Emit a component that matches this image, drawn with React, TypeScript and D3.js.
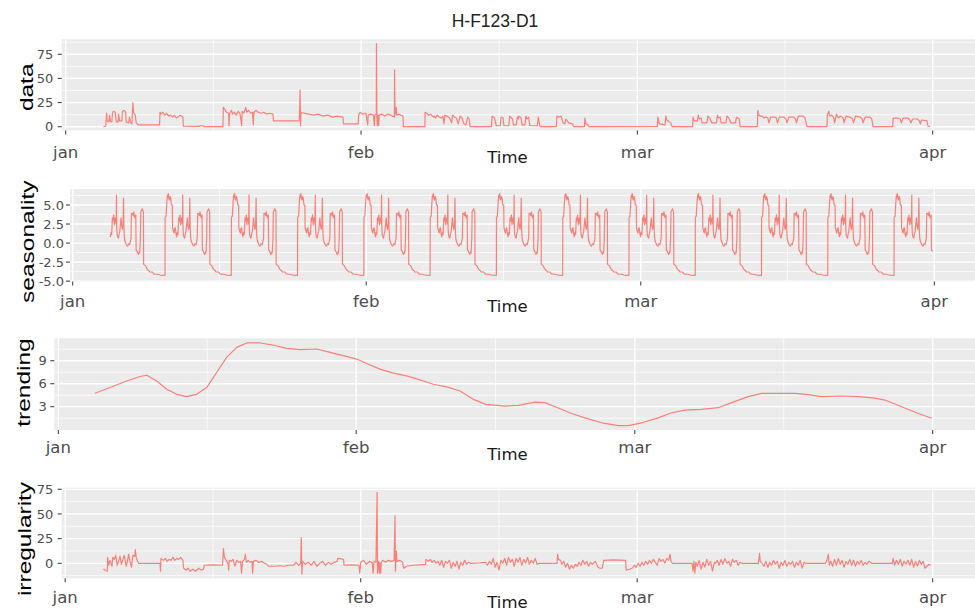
import React from 'react';
import * as d3 from 'd3';

const TITLE = 'H-F123-D1';
const MONTH_LABELS = ['jan', 'feb', 'mar', 'apr'];
const MONTH_DAYS = [0, 31, 60, 91];
const AXIS_X_TITLE = 'Time';

// observed series, [day since Jan 1, value]
const DATA_SERIES: [number, number][] = [
  [3.95, 0], [4.2, 0.5], [4.25, 8], [4.3, 14], [4.35, 6], [4.55, 5], [4.6, 12], [4.7, 6], [4.85, 5], [4.9, 14], [5.0, 16], [5.2, 15], [5.3, 5], [5.5, 5], [5.55, 13], [5.65, 6], [5.9, 6], [5.95, 16], [6.1, 17], [6.3, 15], [6.35, 5], [6.6, 4], [6.7, 10], [6.8, 4], [6.95, 3], [7.0, 14], [7.05, 25], [7.12, 15], [7.3, 12], [7.4, 4], [7.62, 2],
  [9.85, 2], [9.9, 15], [10.0, 13], [10.2, 15], [10.4, 12], [10.6, 14], [10.8, 11], [11.0, 12], [11.2, 10], [11.4, 12], [11.6, 9], [11.8, 10], [12.0, 12], [12.3, 10], [12.35, 0.5],
  [14.0, 0.3], [14.1, 1], [14.4, 1], [14.5, 0.2], [16.5, 0.2],
  [16.55, 20], [16.7, 18], [16.8, 16], [16.9, 15], [17.1, 14], [17.14, 1], [17.2, 14], [17.4, 17], [17.5, 13], [17.7, 15], [17.9, 12], [18.1, 16], [18.3, 13], [18.47, 1], [18.52, 16], [18.7, 14], [18.9, 20], [19.0, 15], [19.2, 17], [19.4, 14], [19.6, 15], [19.69, 2], [19.75, 15], [20.0, 17], [20.2, 15], [20.5, 14], [20.8, 15], [21.1, 13], [21.4, 14], [21.75, 13],
  [21.8, 6], [24.5, 6], [24.55, 15], [24.6, 38], [24.65, 1], [24.7, 15], [25, 14], [25.5, 13], [26, 12], [26.5, 13], [27, 11], [27.5, 12], [28, 10], [28.5, 11], [29.1, 10], [29.15, 3], [30.7, 3],
  [30.75, 12], [30.9, 15], [31.2, 13], [31.5, 14], [31.7, 2], [31.75, 12], [32.0, 13], [32.3, 12], [32.4, 1], [32.45, 12], [32.6, 13], [32.62, 86], [32.66, 12], [32.7, 1], [32.75, 12], [32.85, 1], [32.9, 12], [33.2, 13], [33.5, 11], [33.8, 13], [34.1, 12], [34.3, 11], [34.5, 10], [34.52, 59], [34.56, 12], [34.7, 20], [34.75, 12], [35.0, 13], [35.4, 11], [35.45, 0.2],
  [37.7, 0.2], [37.72, 15], [37.9, 14], [38.1, 12], [38.3, 13], [38.6, 10], [38.7, 11], [38.8, 9], [39.0, 12], [39.2, 10], [39.4, 9], [39.6, 11], [39.7, 3], [39.8, 12], [40.0, 11], [40.3, 9], [40.5, 4], [40.6, 12], [40.8, 10], [41.0, 9], [41.2, 3], [41.4, 11], [41.6, 9], [41.8, 3], [42.0, 2], [42.2, 10], [42.35, 8], [42.44, 0.2],
  [44.7, 0.2], [44.75, 11], [45.0, 9], [45.2, 1], [45.6, 1], [45.7, 10], [45.9, 9], [46.0, 1], [46.5, 1], [46.6, 11], [46.9, 8], [47.0, 2], [47.3, 2], [47.4, 10], [47.5, 8], [47.55, 11], [47.8, 9], [47.9, 2], [48.2, 2], [48.3, 11], [48.4, 8], [48.6, 10], [48.7, 1], [49.5, 1], [49.6, 10], [49.79, 0.2],
  [51.5, 0.2], [51.55, 11], [51.8, 10], [52.0, 11], [52.2, 4], [52.4, 3], [52.5, 8], [52.8, 4], [53.2, 3], [53.3, 0.2],
  [54.45, 0.2], [54.5, 9], [54.6, 3], [54.8, 2], [54.9, 0.2], [62.1, 0.3],
  [62.15, 10], [62.3, 3], [62.9, 2], [63.0, 11], [63.1, 7], [63.5, 4], [63.64, 0.2],
  [65.8, 0.2], [65.85, 10], [65.95, 6], [66.3, 6], [66.4, 12], [66.5, 8], [66.7, 9], [66.8, 4], [67.3, 4], [67.4, 11], [67.6, 9], [67.8, 4], [68.3, 4], [68.4, 12], [68.5, 9], [68.7, 10], [68.8, 4], [69.3, 4], [69.4, 11], [69.6, 9], [69.8, 4], [70.3, 4], [70.4, 10], [70.7, 8], [70.78, 0.2],
  [72.6, 0.2], [72.65, 17], [72.75, 12], [72.9, 11], [73.1, 11], [73.3, 9], [73.5, 10], [73.7, 9], [73.8, 4], [74.0, 10], [74.4, 10], [74.6, 9], [74.7, 4], [74.9, 10], [75.4, 10], [75.6, 8], [75.7, 4], [75.9, 10], [76.4, 10], [76.6, 8], [76.7, 4], [76.9, 11], [77.4, 11], [77.6, 9], [77.81, 0.2],
  [79.9, 0.2], [79.95, 13], [80.1, 16], [80.2, 11], [80.4, 12], [80.6, 10], [80.7, 4], [80.9, 13], [81.1, 9], [81.3, 11], [81.6, 9], [81.7, 4], [81.9, 11], [82.3, 10], [82.6, 8], [82.7, 4], [82.9, 11], [83.4, 10], [83.6, 8], [83.7, 4], [83.9, 10], [84.4, 10], [84.6, 8], [84.74, 0.2],
  [86.8, 0.2], [86.85, 9], [87.3, 9], [87.6, 8], [87.7, 4], [87.9, 9], [88.4, 9], [88.6, 7], [88.7, 4], [88.9, 8], [89.4, 8], [89.6, 6], [89.7, 3], [89.85, 7], [90.4, 6], [90.5, 0.5], [90.72, 0],
];

// one weekly cycle of the seasonal component, [day offset within the week, value]
const SEASON_WEEK: [number, number][] = [
  [0, -4.2], [0.01, 3.4], [0.106, 3.5], [0.18, 5.2], [0.246, 6.3], [0.3, 6.0], [0.352, 6.5], [0.4, 5.9], [0.458, 5.65], [0.53, 6.1], [0.6, 5.9], [0.67, 5.0], [0.77, 5.0], [0.8, 2.0], [0.88, 1.6], [0.95, 1.3], [1.02, 1.9], [1.09, 2.0], [1.16, 1.2], [1.23, 0.8], [1.3, 1.4], [1.37, 1.1], [1.44, 3.3], [1.5, 2.9], [1.58, 3.7], [1.65, 2.4], [1.72, 3.2], [1.76, 3.3], [1.84, 2.5], [1.87, 6.3], [1.9, 2.0], [1.94, 1.1], [2.0, 0.8], [2.08, 0.65], [2.15, 1.2], [2.22, 1.5], [2.3, 2.6], [2.36, 3.3], [2.43, 2.2], [2.5, 1.8], [2.57, 2.5], [2.62, 5.9], [2.66, 2.0], [2.71, 0.65], [2.78, 0.2], [2.85, 0.0], [2.95, -0.3], [3.06, -0.4], [3.15, -0.1], [3.27, -0.2], [3.35, 0.3], [3.41, 0.65], [3.45, 3.9], [3.56, 3.9], [3.63, 3.6], [3.7, 4.1], [3.77, 3.5], [3.84, 3.3], [3.91, 3.7], [3.95, -0.9], [4.05, -1.1], [4.19, -1.5], [4.26, -1.2], [4.33, -1.3], [4.4, 0.65], [4.44, 4.1], [4.52, 4.3], [4.61, 4.5], [4.68, 4.2], [4.72, 4.1], [4.74, -2.8], [4.85, -2.9], [4.96, -3.0], [5.05, -3.3], [5.17, -3.5], [5.28, -3.6], [5.39, -3.8], [5.53, -3.8], [5.67, -3.8], [5.81, -4.05], [6.0, -4.1], [6.16, -4.1], [6.5, -4.2], [6.99, -4.25],
];
// day at which each weekly cycle begins
const SEASON_STARTS = [2.75, 9.75, 16.75, 23.75, 30.75, 37.75, 44.75, 51.75, 58.75, 65.75, 72.75, 79.75, 86.75];
const SEASON_RANGE = [3.95, 90.9];

const TREND: [number, number][] = [
  [3.82, 4.75], [5.38, 5.5], [7.12, 6.36], [8.5, 6.94], [9.2, 7.11], [10.24, 6.36], [11.28, 5.27], [12.32, 4.62], [13.36, 4.31], [14.4, 4.62], [15.44, 5.5], [16.48, 7.47], [17.52, 9.44], [18.57, 10.75], [19.6, 11.32], [20.99, 11.32], [22.38, 11.05], [23.77, 10.62], [25.15, 10.44], [26.9, 10.53], [28.28, 10.1], [29.66, 9.66], [31.05, 9.22], [32.1, 8.65], [33.48, 7.9], [34.87, 7.38], [36.26, 7.02], [37.64, 6.5], [39.03, 5.93], [40.42, 5.58], [41.8, 5.05], [43.19, 3.96], [44.5, 3.3], [46.5, 3.08], [47.87, 3.17], [49.6, 3.6], [50.65, 3.53], [51.7, 3.0], [53.43, 2.12], [54.81, 1.55], [56.55, 0.9], [58.28, 0.54], [59.32, 0.54], [60.71, 0.9], [62.44, 1.55], [63.83, 2.21], [65.22, 2.55], [66.95, 2.64], [68.68, 2.87], [70.08, 3.53], [71.81, 4.31], [73.2, 4.75], [74.93, 4.75], [76.67, 4.75], [78.05, 4.58], [79.44, 4.31], [81.53, 4.4], [83.26, 4.31], [84.99, 4.13], [86.03, 3.87], [87.77, 3.0], [89.5, 2.12], [90.89, 1.5],
];

const IRREG: [number, number][] = [
  [4.0, -6], [4.3, -7.5], [4.42, -8], [4.45, 6], [4.55, -2], [4.7, 3], [4.9, -3], [5.0, 6], [5.15, 4], [5.3, 8], [5.45, -2], [5.6, 2], [5.75, 7], [5.9, -1], [6.05, 4], [6.2, 8], [6.4, -3], [6.55, 3], [6.65, 9], [6.8, 2], [6.95, -4], [7.1, 8], [7.3, 7], [7.35, 14], [7.45, 6], [7.6, 2], [7.7, 0], [9.95, 0], [10.0, -8], [10.05, 5], [10.3, 3], [10.5, 5], [10.7, 2], [10.9, 4], [11.1, 3], [11.3, 6], [11.5, 3], [11.7, 5], [11.9, 4], [12.1, 6], [12.35, 3], [12.42, -5], [12.7, -7], [12.9, -5], [13.1, -8], [13.4, -6], [13.7, -8], [14.0, -5], [14.3, -7], [14.5, -6], [14.6, -2], [15.5, -1.5], [16.5, -2], [16.6, 15], [16.7, 6], [16.9, 3], [17.1, -1], [17.14, -7], [17.2, 3], [17.4, 2], [17.6, 4], [17.8, -3], [18.0, 3], [18.2, 1], [18.4, 2], [18.5, -10], [18.6, 2], [18.8, 4], [18.9, 9], [19.0, 1], [19.2, 3], [19.4, 1], [19.6, 2], [19.66, -10], [19.75, 2], [20.0, 3], [20.3, 1], [20.6, 2], [20.9, 0], [21.16, -1], [21.3, -3], [22.0, -3], [22.5, -2.5], [23.0, -3], [23.5, -2], [23.97, -2], [24.2, 1], [24.5, -2], [24.7, 0], [24.77, 26], [24.82, -11], [24.9, 2], [25.2, -1], [25.5, 1], [25.8, -2], [26.1, 2], [26.4, -3], [26.7, 0], [27.0, 2], [27.3, -2], [27.6, 1], [27.9, -1], [28.2, 1], [28.51, 2], [28.6, 5], [29.2, 4], [29.25, -2], [30.0, -1.5], [30.8, -2], [30.9, -10], [31.0, 1], [31.3, 3], [31.6, -1], [31.9, 2], [32.2, 1], [32.3, -10], [32.4, 2], [32.6, 1], [32.72, 72], [32.76, -10], [32.85, 2], [32.95, -10], [33.0, 1], [33.1, -10], [33.15, 1], [33.3, 3], [33.6, 1], [33.9, 3], [34.2, 2], [34.5, 3], [34.6, 48], [34.64, -8], [34.7, 3], [34.74, 12], [34.8, 2], [35.1, 3], [35.4, 1], [35.5, -5], [35.8, -3], [36.5, -2], [37.2, -1.5], [37.8, -1], [37.85, 4], [38.1, 2], [38.3, 4], [38.5, 1], [38.7, 3], [38.9, 0], [39.1, 2], [39.3, -2], [39.5, 3], [39.7, -4], [39.9, 2], [40.1, 0], [40.3, 3], [40.5, -5], [40.7, 1], [40.9, -3], [41.1, 2], [41.3, -6], [41.5, 1], [41.7, -2], [41.9, 3], [42.1, -1], [42.3, 1], [42.5, 0], [43.5, 0.5], [44.1, 1],
  [44.3, -2], [44.5, 2], [44.7, -1], [44.9, 5], [45.1, -4], [45.3, 1], [45.5, -7], [45.7, 3], [45.9, 0], [46.1, 5], [46.3, -2], [46.5, 6], [46.7, 1], [46.9, 4], [47.1, -3], [47.3, 5], [47.5, 1], [47.7, 6], [47.9, -2], [48.1, 4], [48.3, 0], [48.5, 6], [48.7, -1], [48.9, 3], [49.1, 0], [49.3, 5], [49.5, -1], [49.68, 0], [51.6, 0], [51.65, 9], [51.75, 4], [51.96, 3], [52.1, -1], [52.3, 2], [52.5, -4], [52.7, 0], [52.9, -6], [53.1, -2], [53.3, -5], [53.5, -1], [53.7, -3], [53.9, 1], [54.1, -2], [54.3, 3], [54.5, -1], [54.7, 2], [54.9, -3], [55.1, 1], [55.3, -1], [55.6, 2], [55.9, -4], [56.1, -5], [56.33, -5], [56.5, 3], [57.5, 3.5], [58.78, 3], [58.85, -7], [59.2, -6], [59.48, -5], [59.7, -2], [59.9, -4], [60.1, 0], [60.3, -3], [60.5, 1], [60.7, -2], [60.9, 2], [61.1, -1], [61.3, 3], [61.5, 0], [61.7, 4], [61.9, 1], [62.1, -2], [62.3, 5], [62.5, 2], [62.7, 4], [62.9, 0], [63.1, 5], [63.3, 3], [63.45, 9], [63.55, 2], [63.68, 0], [65.77, 0], [65.85, -8], [65.95, 2], [66.05, -10], [66.15, 1], [66.3, -3], [66.5, 3], [66.7, -6], [66.9, 1], [67.1, -4], [67.3, 4], [67.5, -2], [67.7, 2], [67.9, -8], [68.1, 1], [68.22, 0], [68.4, 3], [68.6, -2], [68.8, 4], [69.0, -1], [69.2, 5], [69.4, 0], [69.6, 2], [69.8, -3], [70.0, 4], [70.2, 1], [70.4, 3], [70.6, -2], [70.8, 1], [71.0, 0], [72.7, 0], [72.84, 10], [72.9, 2], [73.1, 0], [73.3, -3], [73.5, 2], [73.7, -4], [73.9, 1], [74.1, -2], [74.3, 3], [74.5, -1], [74.7, 2], [74.9, -5], [75.1, 1], [75.3, -2], [75.5, 3], [75.7, -3], [75.9, 1], [76.1, -1], [76.3, 2], [76.5, -4], [76.7, 1], [76.9, -2], [77.1, 3], [77.3, -5], [77.5, 1], [77.66, 0], [79.76, 0], [79.9, 3], [80.05, 9], [80.15, -2], [80.3, 2], [80.5, -3], [80.7, 4], [80.9, -2], [81.1, 5], [81.3, -1], [81.5, 3], [81.7, -4], [81.9, 2], [82.1, -1], [82.3, 4], [82.5, -2], [82.7, 3], [82.9, -3], [83.1, 2], [83.3, -1], [83.5, 3], [83.7, -2], [83.9, 1], [84.1, -1], [84.3, 2], [84.6, 0], [85.01, 0], [86.76, 0], [86.85, 5], [87.0, -2], [87.2, 3], [87.4, -1], [87.6, 4], [87.8, -3], [88.0, 2], [88.2, -1], [88.4, 3], [88.6, -2], [88.8, 4], [89.0, -4], [89.2, 2], [89.4, -3], [89.6, 3], [89.8, -1], [90.0, 2], [90.2, -5], [90.4, -3], [90.6, -1], [90.8, -2],
];

const SEASONALITY: [number, number][] = SEASON_STARTS.flatMap((s) =>
  SEASON_WEEK.map(([o, v]) => [s + o, v] as [number, number])
).filter(([d]) => d >= SEASON_RANGE[0] && d <= SEASON_RANGE[1]);

const Y_TITLES = ['data', 'seasonality', 'trending', 'irregularity'];
const Y_TICKS = [[0, 25, 50, 75], [-5, -2.5, 0, 2.5, 5], [3, 6, 9], [0, 25, 50, 75]];
const Y_DOMAINS = [[-3.9, 90.5], [-5.05, 7.1], [-0.04, 11.93], [-15.2, 76.6]];

const W = 975;
const H = 613;
const LINE = '#F8766D';

interface Layout {
  left: number; top: number; bottom: number; janX: number; aprX: number;
  labelRight: number; titleX: number; titleY: number; xLabY: number; timeY: number;
  fmt: (v: number) => string;
}
const LAYOUT: Layout[] = [
  { left: 61.7, top: 39.3, bottom: 130.5, janX: 65.7, aprX: 932.7, labelRight: 53.3, titleX: 33.3, titleY: 87.3, xLabY: 158, timeY: 163.3, fmt: (v) => String(v) },
  { left: 70, top: 189, bottom: 281.5, janX: 72.7, aprX: 934.3, labelRight: 64, titleX: 34.3, titleY: 241.7, xLabY: 306.8, timeY: 311.7, fmt: (v) => v.toFixed(1) },
  { left: 54.3, top: 338.3, bottom: 430, janX: 58.3, aprX: 932.7, labelRight: 46.7, titleX: 29.6, titleY: 382.5, xLabY: 453, timeY: 460, fmt: (v) => String(v) },
  { left: 61.7, top: 487.7, bottom: 578.3, janX: 65.2, aprX: 932.7, labelRight: 53.3, titleX: 31.2, titleY: 539, xLabY: 603, timeY: 608.3, fmt: (v) => String(v) },
];
const SERIES = [DATA_SERIES, SEASONALITY, TREND, IRREG];

function Panel({ idx }: { idx: number }) {
  const L = LAYOUT[idx];
  const right = W;
  const x = d3.scaleLinear().domain([MONTH_DAYS[0], MONTH_DAYS[3]]).range([L.janX, L.aprX]);
  const y = d3.scaleLinear().domain(Y_DOMAINS[idx]).range([L.bottom, L.top]);
  const ticks = Y_TICKS[idx];
  const step = ticks[1] - ticks[0];
  const minors: number[] = [];
  for (let v = ticks[0] - step / 2; v <= Y_DOMAINS[idx][1]; v += step) {
    if (v >= Y_DOMAINS[idx][0]) minors.push(v);
  }
  const xMajor = MONTH_DAYS.map((d) => x(d));
  const xMinor = xMajor.slice(1).map((px, i) => (px + xMajor[i]) / 2);
  const line = d3.line<[number, number]>().x((d) => x(d[0])).y((d) => y(d[1]));
  const clipId = `clip-${idx}`;
  return (
    <g>
      <defs>
        <clipPath id={clipId}>
          <rect x={L.left} y={L.top} width={right - L.left} height={L.bottom - L.top} />
        </clipPath>
      </defs>
      <rect x={L.left} y={L.top} width={right - L.left} height={L.bottom - L.top} fill="#EBEBEB" />
      <g clipPath={`url(#${clipId})`}>
        {minors.map((v) => (
          <line key={'hm' + v} x1={L.left} x2={right} y1={y(v)} y2={y(v)} stroke="#fff" strokeWidth={0.7} />
        ))}
        {xMinor.map((px, i) => (
          <line key={'vm' + i} x1={px} x2={px} y1={L.top} y2={L.bottom} stroke="#fff" strokeWidth={0.7} />
        ))}
        {ticks.map((v) => (
          <line key={'hM' + v} x1={L.left} x2={right} y1={y(v)} y2={y(v)} stroke="#fff" strokeWidth={1.3} />
        ))}
        {xMajor.map((px, i) => (
          <line key={'vM' + i} x1={px} x2={px} y1={L.top} y2={L.bottom} stroke="#fff" strokeWidth={1.3} />
        ))}
        <path d={line(SERIES[idx]) || ''} fill="none" stroke={LINE} strokeWidth={1.2} strokeOpacity={0.9} strokeLinejoin="round" />
      </g>
      {ticks.map((v) => (
        <g key={'yt' + v}>
          <line x1={L.left - 4} x2={L.left} y1={y(v)} y2={y(v)} stroke="#333" strokeWidth={1} />
          <text x={L.labelRight} y={y(v)} dy="0.36em" textAnchor="end" fontFamily="DejaVu Sans" fontSize={13} fill="#4D4D4D">
            {L.fmt(v)}
          </text>
        </g>
      ))}
      {MONTH_DAYS.map((d, i) => (
        <g key={'xt' + i}>
          <line x1={x(d)} x2={x(d)} y1={L.bottom} y2={L.bottom + 4} stroke="#333" strokeWidth={1} />
          <text x={x(d)} y={L.xLabY} textAnchor="middle" fontFamily="DejaVu Sans" fontSize={16.5} fill="#4D4D4D">
            {MONTH_LABELS[i]}
          </text>
        </g>
      ))}
      <text x={507.5} y={L.timeY} textAnchor="middle" fontFamily="DejaVu Sans" fontSize={16.5} fill="#1a1a1a">
        {AXIS_X_TITLE}
      </text>
      <text
        transform={`translate(${L.titleX},${L.titleY}) rotate(-90) scale(1.36,1)`}
        textAnchor="middle"
        fontFamily="Liberation Sans, Arial, sans-serif"
        fontSize={18}
        fill="#000"
      >
        {Y_TITLES[idx]}
      </text>
    </g>
  );
}

export default function App() {
  return (
    <svg width={W} height={H} style={{ position: 'absolute', left: 0, top: 0, background: '#fff' }}>
      <rect x={0} y={0} width={W} height={H} fill="#fff" />
      <text x={495} y={26.7} textAnchor="middle" fontFamily="Liberation Sans, Arial, sans-serif" fontSize={17.5} fill="#222">
        {TITLE}
      </text>
      {LAYOUT.map((_, i) => (
        <Panel key={i} idx={i} />
      ))}
    </svg>
  );
}
